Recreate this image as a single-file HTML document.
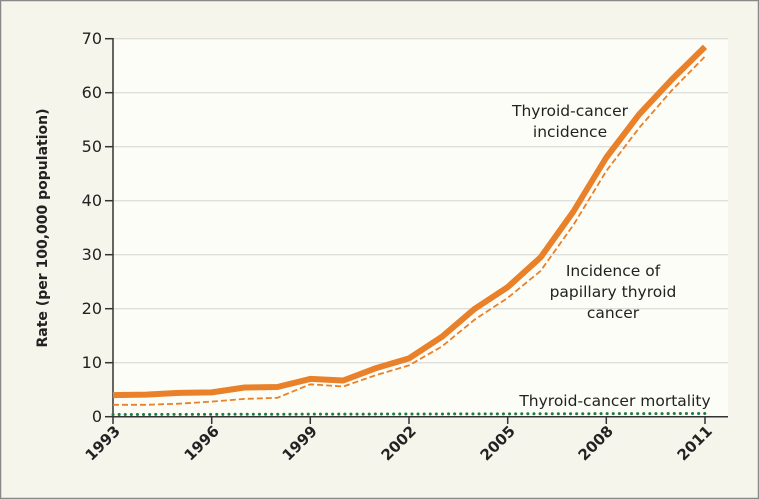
<!DOCTYPE html>
<html><head><meta charset="utf-8"><style>
html,body{margin:0;padding:0;background:#f6f5ec;}
svg{display:block;}
text{font-family:"DejaVu Sans","Liberation Sans",sans-serif;fill:#222;}
</style></head><body>
<svg width="759" height="499" viewBox="0 0 759 499" xmlns="http://www.w3.org/2000/svg">
<rect x="0.5" y="0.5" width="758" height="498" fill="#f6f5ec" stroke="#888" stroke-width="1.5"/>
<rect x="113" y="38" width="615" height="379" fill="#fdfdf7"/>
<g stroke="#d4d4d0" stroke-width="1">
<line x1="113" x2="728" y1="38.7" y2="38.7"/>
<line x1="113" x2="728" y1="92.7" y2="92.7"/>
<line x1="113" x2="728" y1="146.7" y2="146.7"/>
<line x1="113" x2="728" y1="200.7" y2="200.7"/>
<line x1="113" x2="728" y1="254.7" y2="254.7"/>
<line x1="113" x2="728" y1="308.7" y2="308.7"/>
<line x1="113" x2="728" y1="362.7" y2="362.7"/>
</g>
<g stroke="#333" stroke-width="1.5">
<line x1="113" x2="113" y1="38" y2="417"/>
<line x1="113" x2="728" y1="416.7" y2="416.7"/>
<line x1="105" x2="113" y1="38.7" y2="38.7"/>
<line x1="105" x2="113" y1="92.7" y2="92.7"/>
<line x1="105" x2="113" y1="146.7" y2="146.7"/>
<line x1="105" x2="113" y1="200.7" y2="200.7"/>
<line x1="105" x2="113" y1="254.7" y2="254.7"/>
<line x1="105" x2="113" y1="308.7" y2="308.7"/>
<line x1="105" x2="113" y1="362.7" y2="362.7"/>
<line x1="105" x2="113" y1="416.7" y2="416.7"/>
<line x1="113" x2="113" y1="417" y2="424"/>
<line x1="211.7" x2="211.7" y1="417" y2="424"/>
<line x1="310.3" x2="310.3" y1="417" y2="424"/>
<line x1="409" x2="409" y1="417" y2="424"/>
<line x1="507.7" x2="507.7" y1="417" y2="424"/>
<line x1="606.3" x2="606.3" y1="417" y2="424"/>
<line x1="705" x2="705" y1="417" y2="424"/>
</g>
<g font-size="16" text-anchor="end">
<text x="102" y="44">70</text><text x="102" y="98">60</text><text x="102" y="152">50</text>
<text x="102" y="206">40</text><text x="102" y="260">30</text><text x="102" y="314">20</text>
<text x="102" y="368">10</text><text x="102" y="422">0</text>
</g>
<g font-size="15" font-weight="bold" text-anchor="end">
<text transform="translate(121,432) rotate(-45)">1993</text>
<text transform="translate(220,432) rotate(-45)">1996</text>
<text transform="translate(318,432) rotate(-45)">1999</text>
<text transform="translate(417,432) rotate(-45)">2002</text>
<text transform="translate(516,432) rotate(-45)">2005</text>
<text transform="translate(614,432) rotate(-45)">2008</text>
<text transform="translate(713,432) rotate(-45)">2011</text>
</g>
<text transform="translate(47,228) rotate(-90)" font-size="14" font-weight="bold" text-anchor="middle">Rate (per 100,000 population)</text>
<polyline fill="none" stroke="#e8812a" stroke-width="6" stroke-linejoin="round" points="113,395.1 145.9,394.6 178.8,392.9 211.7,392.4 244.6,387.5 277.4,387 310.3,378.9 343.2,380.5 376.1,368.1 409,358.4 441.9,336.8 474.8,308.7 507.7,287.1 540.6,257.4 573.4,211.5 606.3,157.5 639.2,114.3 672.1,79.2 705,46.8"/>
<polyline fill="none" stroke="#e8812a" stroke-width="1.8" stroke-dasharray="6,3" points="113,404.8 145.9,404.8 178.8,403.7 211.7,401.6 244.6,398.9 277.4,397.8 310.3,384.3 343.2,386.5 376.1,375.1 409,365.4 441.9,346.5 474.8,319.5 507.7,297.9 540.6,270.9 573.4,225 606.3,171 639.2,127.8 672.1,90 705,56.5"/>
<polyline fill="none" stroke="#1f7a45" stroke-width="3" stroke-linecap="round" stroke-dasharray="0.1,6" points="113,414.5 409,414 705,413.5"/>
<g font-size="15.5" font-family="Liberation Sans" text-anchor="middle">
<text x="570" y="116">Thyroid-cancer</text><text x="570" y="137">incidence</text>
<text x="613" y="276">Incidence of</text><text x="613" y="297">papillary thyroid</text><text x="613" y="318">cancer</text>
<text x="615" y="406">Thyroid-cancer mortality</text>
</g>
</svg>
</body></html>
